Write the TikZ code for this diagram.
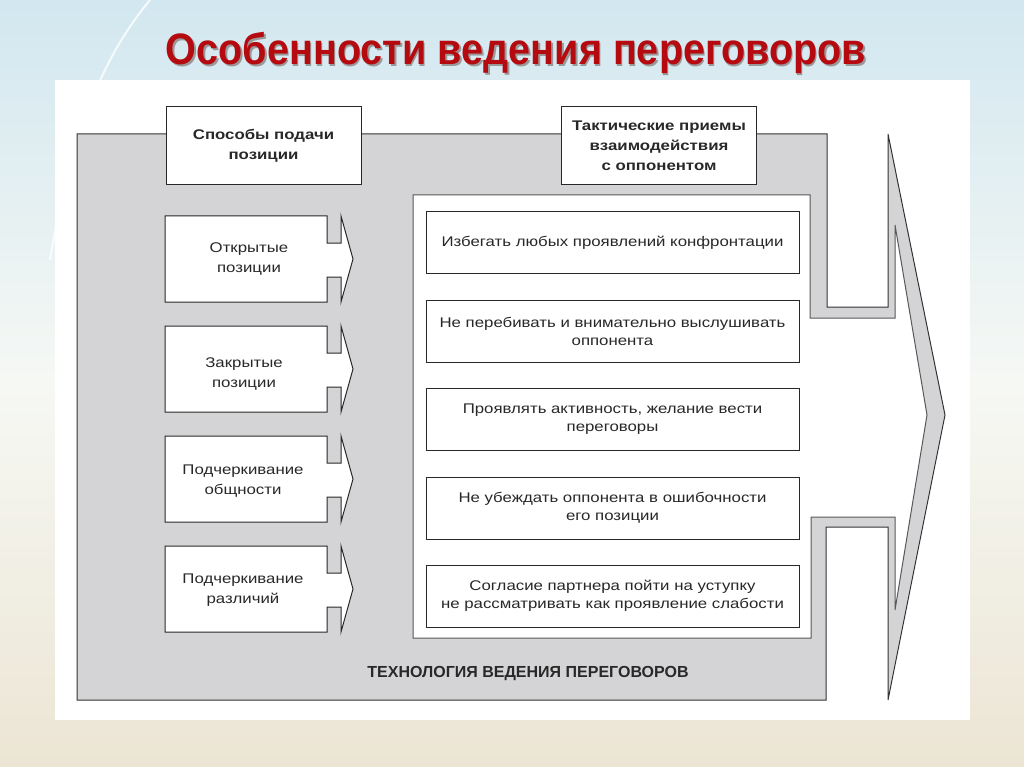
\documentclass[tikz,border=0pt]{standalone}
\usepackage{fontspec}
\setmainfont{Liberation Sans}
\newfontfamily\widefont[FakeStretch=1.2]{Liberation Sans}
\usepackage{graphicx}
\definecolor{titlered}{RGB}{180,10,16}
\definecolor{framegray}{RGB}{212,212,214}
\definecolor{inkdark}{RGB}{40,40,40}
\definecolor{bgtop}{RGB}{210,231,240}
\definecolor{bgmid}{RGB}{246,248,244}
\definecolor{bgbot}{RGB}{236,229,212}
\tikzset{
  headbox/.style={draw=inkdark, line width=1pt, fill=white, minimum width=195pt, minimum height=78pt, inner sep=0pt, align=center, font=\widefont\fontsize{14}{20}\selectfont\bfseries, text=inkdark},
  itembox/.style={draw=inkdark, line width=1pt, fill=white, minimum width=373pt, minimum height=62pt, inner sep=0pt, align=center, font=\widefont\fontsize{14}{18}\selectfont, text=inkdark},
  itemtext/.style={align=center, inner sep=0pt, font=\widefont\fontsize{14}{20}\selectfont, text=inkdark},
  outerline/.style={draw=black!80, line width=1pt},
  innerline/.style={draw=black!65, line width=1pt},
  chevbox/.style={draw=inkdark, line width=1pt, fill=white, line join=miter}
}
\newcommand\chevronshape[1]{%
  \begin{scope}[shift={(0,#1)}]
    \filldraw[chevbox] (165,0) -- (327,0) -- (327,27) -- (341,27) -- (341,0) -- (353,43) -- (341,86) -- (341,61) -- (327,61) -- (327,86) -- (165,86) -- cycle;
  \end{scope}}
\begin{document}
\begin{tikzpicture}[x=1pt,y=-1pt]
\useasboundingbox (0,0) rectangle (1024,767);
% slide background
\shade[top color=bgtop, bottom color=bgbot, middle color=bgmid] (0,0) rectangle (1024,767);
\draw[white, line width=2pt, opacity=0.8] (150,0) .. controls (100,60) and (70,140) .. (50,260);
% title
\node[text=black!40, font=\fontsize{44}{50}\selectfont\bfseries] (titleshadow) at (517.5,54.5) {\scalebox{0.9}[1]{Особенности ведения переговоров}};
\node[text=titlered, font=\fontsize{44}{50}\selectfont\bfseries] (title) at (516,53) {\scalebox{0.9}[1]{Особенности ведения переговоров}};
% white panel
\fill[white] (55,80) rectangle (970,720);
% gray frame (outer polygon minus inner panel)
\fill[framegray, even odd rule]
  (77,134) -- (827,134) -- (827,307) -- (888,307) -- (888,134) -- (945,415) -- (888,700) -- (888,527) -- (826,527) -- (826,700) -- (77,700) -- cycle
  (413,195) -- (810,195) -- (810,318) -- (895,318) -- (895,225) -- (927,415) -- (895,610) -- (895,517) -- (811,517) -- (811,638) -- (413,638) -- cycle;
\draw[outerline] (77,134) -- (827,134) -- (827,307) -- (888,307) -- (888,134) -- (945,415) -- (888,700) -- (888,527) -- (826,527) -- (826,700) -- (77,700) -- cycle;
\draw[innerline] (413,195) -- (810,195) -- (810,318) -- (895,318) -- (895,225) -- (927,415) -- (895,610) -- (895,517) -- (811,517) -- (811,638) -- (413,638) -- cycle;
% headers
\node[headbox] (h1) at (263.5,146) {Способы подачи\\позиции};
\node[headbox] (h2) at (659,146) {Тактические приемы\\взаимодействия\\с оппонентом};
% left chevron boxes
\chevronshape{216}
\chevronshape{326}
\chevronshape{436}
\chevronshape{546}
\node[itemtext] (l1) at (249,259) {Открытые\\позиции};
\node[itemtext] (l2) at (244,374) {Закрытые\\позиции};
\node[itemtext] (l3) at (243,481) {Подчеркивание\\общности};
\node[itemtext] (l4) at (243,590) {Подчеркивание\\различий};
% right boxes
\node[itembox] (r1) at (612.5,242.5) {Избегать любых проявлений конфронтации};
\node[itembox] (r2) at (612.5,331) {Не перебивать и внимательно выслушивать\\оппонента};
\node[itembox] (r3) at (612.5,419) {Проявлять активность, желание вести\\переговоры};
\node[itembox] (r4) at (612.5,508) {Не убеждать оппонента в ошибочности\\его позиции};
\node[itembox] (r5) at (612.5,596) {Согласие партнера пойти на уступку\\не рассматривать как проявление слабости};
% footer label
\node[text=inkdark, font=\fontsize{16}{18}\selectfont\bfseries] (tech) at (528,673) {ТЕХНОЛОГИЯ ВЕДЕНИЯ ПЕРЕГОВОРОВ};
\end{tikzpicture}
\end{document}
